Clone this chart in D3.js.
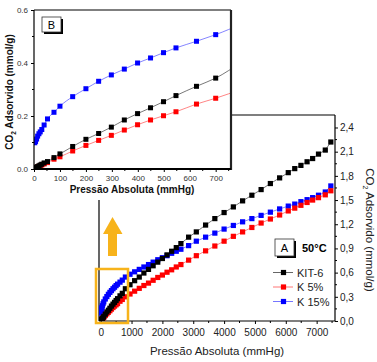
<!DOCTYPE html>
<html><head><meta charset="utf-8">
<script src="https://cdn.jsdelivr.net/npm/d3@7"></script>
<style>body{margin:0;background:#fff}svg{display:block;font-family:Arial,"Liberation Sans",sans-serif}</style>
</head><body>
<svg id="c" width="377" height="362"></svg>
<script>
// Low-pressure region (inset B and dense part of A)
const lowP    = [3, 6, 10, 14, 19, 24, 30, 39, 52, 77, 100, 149, 200, 249, 298, 348, 399, 449, 499, 547, 626, 700];
const kitLow  = [0.002,0.004,0.007,0.009,0.012,0.015,0.018,0.023,0.028,0.043,0.057,0.085,0.112,0.134,0.158,0.185,0.209,0.231,0.254,0.277,0.312,0.343];
const k5Low   = [0.002,0.004,0.006,0.008,0.010,0.012,0.015,0.019,0.024,0.037,0.046,0.068,0.089,0.108,0.127,0.147,0.167,0.185,0.201,0.216,0.245,0.267];
const k15Low  = [0.099,0.104,0.113,0.124,0.133,0.140,0.149,0.166,0.189,0.214,0.237,0.273,0.303,0.331,0.355,0.377,0.400,0.419,0.439,0.457,0.482,0.507];
// High-pressure region (chart A)
const highP   = [800,950,1100,1250,1400,1550,1700,1850,2000,2150,2300,2450,2600,2850,3100,3400,3700,4000,4300,4600,4900,5200,5500,5800,6080,6290,6490,6690,6870,7060,7280,7460];
const kitHigh = [0.40,0.45,0.50,0.545,0.595,0.64,0.685,0.73,0.775,0.82,0.865,0.91,0.96,1.04,1.105,1.19,1.27,1.345,1.415,1.49,1.56,1.63,1.705,1.775,1.84,1.89,1.93,1.975,2.015,2.07,2.12,2.22];
const k5High  = [0.30,0.335,0.37,0.405,0.44,0.47,0.505,0.54,0.57,0.605,0.635,0.67,0.70,0.755,0.81,0.87,0.93,0.99,1.05,1.105,1.16,1.215,1.265,1.315,1.365,1.40,1.435,1.47,1.50,1.53,1.565,1.615];
const k15High = [0.545,0.58,0.61,0.64,0.67,0.70,0.73,0.76,0.785,0.81,0.84,0.865,0.89,0.935,0.99,1.04,1.09,1.14,1.185,1.23,1.27,1.31,1.35,1.39,1.425,1.45,1.48,1.505,1.53,1.56,1.60,1.675];
const seriesNames = ["KIT-6", "K 5%", "K 15%"];
const seriesColors = ["#000000", "#ff0000", "#0000ff"];
const lineColors = ["#555555", "#ff6666", "#6666ff"];
const mainXTicks = [0,1000,2000,3000,4000,5000,6000,7000];
const mainYTicks = [0,0.3,0.6,0.9,1.2,1.5,1.8,2.1,2.4];
const insetXTicks = [0,100,200,300,400,500,600,700];
const insetYTicks = [0,0.2,0.4,0.6];

const lowVals = [kitLow, k5Low, k15Low];
const highVals = [kitHigh, k5High, k15High];
const series = seriesNames.map((n,i)=>({
  name:n, color:seriesColors[i], lc:lineColors[i],
  pts: lowP.map((p,j)=>[p, lowVals[i][j]]).concat(highP.map((p,j)=>[p, highVals[i][j]]))
}));

const svg = d3.select("#c");
const fmt = d3.format(".1f");
const comma = v => fmt(v).replace(".", ",");

// ---------- Main chart A ----------
const A = {l:99, r:335, t:115, b:321};
const x = d3.scaleLinear().domain([-55, 7595]).range([A.l, A.r]);
const y = d3.scaleLinear().domain([0, 2.555]).range([A.b, A.t]);
const gA = svg.append("g");
gA.append("defs").append("clipPath").attr("id","clipA").append("rect")
  .attr("x",A.l).attr("y",A.t).attr("width",A.r-A.l).attr("height",A.b-A.t);

// frame
gA.append("line").attr("x1",A.l).attr("x2",A.r).attr("y1",A.t).attr("y2",A.t).attr("stroke","#000").attr("stroke-width",1.2);
gA.append("line").attr("x1",A.l).attr("x2",A.l).attr("y1",A.t).attr("y2",A.b).attr("stroke","#000").attr("stroke-width",1.2);

const xAxisA = d3.axisBottom(x).tickValues(mainXTicks).tickSize(3).tickFormat(d3.format("d"));
const gxA = gA.append("g").attr("transform",`translate(0,${A.b})`).call(xAxisA);
gxA.append("g").selectAll("line").data(d3.range(500,7600,1000)).join("line")
  .attr("x1",d=>x(d)).attr("x2",d=>x(d)).attr("y1",0).attr("y2",2).attr("stroke","#000");
gxA.select(".domain").attr("d",`M${A.l},0H${A.r}`).attr("stroke-width",1.2);
gxA.selectAll("text").attr("font-size",10).attr("fill","#222").attr("dy","0.9em");

const yAxisA = d3.axisRight(y).tickValues(mainYTicks).tickSize(3).tickFormat(comma);
const gyA = gA.append("g").attr("transform",`translate(${A.r},0)`).call(yAxisA);
gyA.append("g").selectAll("line").data(d3.range(0.15,2.5,0.3)).join("line")
  .attr("x1",0).attr("x2",2).attr("y1",d=>y(d)).attr("y2",d=>y(d)).attr("stroke","#000");
gyA.select(".domain").attr("d",`M0,${A.t}V${A.b}`).attr("stroke-width",1.2);
gyA.selectAll("text").attr("font-size",10).attr("fill","#222").attr("x",5);

const lineA = d3.line().x(d=>x(d[0])).y(d=>y(d[1]));
const plotA = gA.append("g").attr("clip-path","url(#clipA)");
[2,1,0].forEach(i=>{
  const s = series[i];
  plotA.append("path").attr("d",lineA(s.pts)).attr("fill","none").attr("stroke",s.lc).attr("stroke-width",0.8);
  plotA.append("g").selectAll("rect").data(s.pts).join("rect")
    .attr("x",d=>x(d[0])-2.6).attr("y",d=>y(d[1])-2.6).attr("width",5.2).attr("height",5.2).attr("fill",s.color);
});

// axis titles
gA.append("text").attr("x",217).attr("y",355).attr("text-anchor","middle").attr("font-size",11.5).attr("fill","#222").text("Pressão Absoluta (mmHg)");
const yt = gA.append("text").attr("transform","translate(366,230) rotate(90)").attr("text-anchor","middle").attr("font-size",11.5).attr("fill","#222");
yt.append("tspan").text("CO");
yt.append("tspan").attr("font-size",7).attr("dy",3).text("2");
yt.append("tspan").attr("dy",-3).text(" Adsorvido (mmol/g)");

// label A with shadow
gA.append("rect").attr("x",277).attr("y",241).attr("width",19).attr("height",17).attr("fill","#000");
gA.append("rect").attr("x",275).attr("y",239).attr("width",19).attr("height",17).attr("fill","#fff").attr("stroke","#333").attr("stroke-width",0.8);
gA.append("text").attr("x",284.5).attr("y",252).attr("text-anchor","middle").attr("font-size",11).text("A");
gA.append("text").attr("x",302).attr("y",252).attr("font-size",11).attr("font-weight","bold").text("50°C");

// legend
series.forEach((s,i)=>{
  const ly = 272.5 + i*14.5;
  gA.append("line").attr("x1",273).attr("x2",293).attr("y1",ly).attr("y2",ly).attr("stroke",s.lc).attr("stroke-width",0.9);
  gA.append("rect").attr("x",283.5-2.6).attr("y",ly-2.6).attr("width",5.2).attr("height",5.2).attr("fill",s.color);
  gA.append("text").attr("x",297).attr("y",ly+4).attr("font-size",11).attr("fill","#222").text(s.name);
});

// orange zoom box and arrow
const orange = "#f7b31b";
gA.append("rect").attr("x",96).attr("y",269).attr("width",32).attr("height",54).attr("fill","none").attr("stroke",orange).attr("stroke-width",2.5);
gA.append("path").attr("d","M112.5,217 L122.5,234 L117,234 L117,256 L108,256 L108,234 L103,234 Z").attr("fill",orange);

// ---------- Inset B ----------
const B = {l:34, r:231, t:10, b:169};
svg.append("rect").attr("x",0).attr("y",0).attr("width",B.r+1).attr("height",200).attr("fill","#fff");
const xi = d3.scaleLinear().domain([0, 759]).range([B.l, B.r]);
const yi = d3.scaleLinear().domain([0, 0.6]).range([B.b, B.t]);
const gB = svg.append("g");
gB.append("defs").append("clipPath").attr("id","clipB").append("rect")
  .attr("x",B.l).attr("y",B.t).attr("width",B.r-B.l).attr("height",B.b-B.t);
const plotB = gB.append("g").attr("clip-path","url(#clipB)");
const lineB = d3.line().curve(d3.curveMonotoneX).x(d=>xi(d[0])).y(d=>yi(d[1]));
[1,0,2].forEach(i=>{
  const s = series[i];
  plotB.append("path").attr("d",lineB(s.pts.filter(d=>d[0]<=1000))).attr("fill","none").attr("stroke",s.lc).attr("stroke-width",0.8);
  plotB.append("g").selectAll("rect").data(s.pts.filter(d=>d[0]<=760)).join("rect")
    .attr("x",d=>xi(d[0])-2.5).attr("y",d=>yi(d[1])-2.5).attr("width",5).attr("height",5).attr("fill",s.color);
});
// frame
gB.append("line").attr("x1",B.l).attr("x2",B.r).attr("y1",B.t).attr("y2",B.t).attr("stroke","#000").attr("stroke-width",1.2);
gB.append("line").attr("x1",B.r).attr("x2",B.r).attr("y1",B.t).attr("y2",B.b+1).attr("stroke","#222").attr("stroke-width",2.2);

const xAxisB = d3.axisBottom(xi).tickValues(insetXTicks).tickSize(3).tickFormat(d3.format("d"));
const gxB = gB.append("g").attr("transform",`translate(0,${B.b})`).call(xAxisB);
gxB.append("g").selectAll("line").data(d3.range(50,760,100)).join("line")
  .attr("x1",d=>xi(d)).attr("x2",d=>xi(d)).attr("y1",0).attr("y2",2).attr("stroke","#000");
gxB.select(".domain").attr("d",`M${B.l},0H${B.r}`).attr("stroke-width",1.8);
gxB.selectAll("text").attr("font-size",8).attr("fill","#333").attr("dy","0.8em");

const yAxisB = d3.axisLeft(yi).tickValues(insetYTicks).tickSize(3).tickFormat(d3.format(".1f"));
const gyB = gB.append("g").attr("transform",`translate(${B.l},0)`).call(yAxisB);
gyB.append("g").selectAll("line").data([0.1,0.3,0.5]).join("line")
  .attr("x1",0).attr("x2",-2).attr("y1",d=>yi(d)).attr("y2",d=>yi(d)).attr("stroke","#000");
gyB.select(".domain").attr("d",`M0,${B.t}V${B.b}`).attr("stroke-width",1.2);
gyB.selectAll("text").attr("font-size",8).attr("fill","#333");

gB.append("text").attr("x",132).attr("y",193).attr("text-anchor","middle").attr("font-size",10).attr("font-weight","bold").attr("fill","#111").text("Pressão Absoluta (mmHg)");
const yb = gB.append("text").attr("transform","translate(13,92) rotate(-90)").attr("text-anchor","middle").attr("font-size",10).attr("font-weight","bold").attr("fill","#111");
yb.append("tspan").text("CO");
yb.append("tspan").attr("font-size",6.5).attr("dy",3).text("2");
yb.append("tspan").attr("dy",-3).text(" Adsorvido (mmol/g)");

gB.append("rect").attr("x",44).attr("y",19).attr("width",19).attr("height",15).attr("fill","#000");
gB.append("rect").attr("x",42).attr("y",17).attr("width",19).attr("height",15).attr("fill","#fff").attr("stroke","#333").attr("stroke-width",0.8);
gB.append("text").attr("x",51.5).attr("y",29).attr("text-anchor","middle").attr("font-size",11).text("B");
</script>
</body></html>
